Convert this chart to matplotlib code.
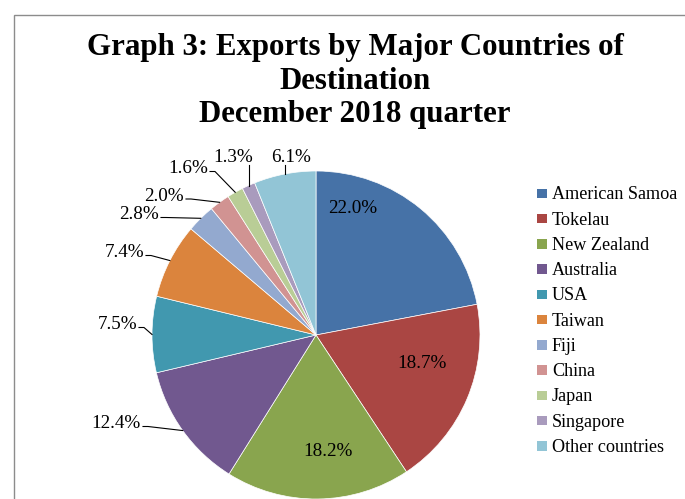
import numpy as np
import matplotlib
matplotlib.use("Agg")
import matplotlib.pyplot as plt
from matplotlib.patches import Rectangle

# ---- data ----
countries = ["American Samoa", "Tokelau", "New Zealand", "Australia", "USA",
             "Taiwan", "Fiji", "China", "Japan", "Singapore", "Other countries"]
shares = [22.0, 18.7, 18.2, 12.4, 7.5, 7.4, 2.8, 2.0, 1.6, 1.3, 6.1]
colors = ["#4672A7", "#AA4643", "#89A54E", "#71588F", "#4198AF", "#DB843D",
          "#93A9CF", "#D19392", "#B9CD96", "#A99BBD", "#92C5D6"]
title_lines = ["Graph 3: Exports by Major Countries of", "Destination",
               "December 2018 quarter"]

# ---- layout ----
W, H = 685, 499
SERIF = ["Liberation Serif", "DejaVu Serif"]
fig = plt.figure(figsize=(W / 100, H / 100), dpi=100)
ax = fig.add_axes([0, 0, 1, 1])

def Y(y):
    return H - y

CX, CY, R = 316, Y(335), 164
wedges, _ = ax.pie(shares, colors=colors, startangle=90, counterclock=False,
                   center=(CX, CY), radius=R,
                   wedgeprops=dict(edgecolor="white", linewidth=0.5))
ax.set_xlim(0, W)
ax.set_ylim(0, H)
ax.set_aspect("equal")
ax.axis("off")

# chart border (top and left visible)
ax.plot([14, 14, W], [0, Y(15), Y(15)], color="#8c8c8c", lw=1.0,
        solid_joinstyle="miter", clip_on=False)

# title
for line, yb in zip(title_lines, [55, 88.5, 122]):
    ax.text(355, Y(yb), line, ha="center", va="baseline", fontsize=22.2,
            fontweight="bold", family=SERIF)

# data label layout: kind, x, baseline (px from top)
label_layout = [("in", 353, 213), ("in", 422, 368), ("in", 328, 456),
                ("left", 141, 428), ("left", 137, 329), ("left", 144, 257),
                ("left", 159, 219), ("left", 184, 200.5), ("left", 208, 173),
                ("top", 233, 162), ("top", 291, 162)]

LFS = 13.8
for w, v, (kind, x, yb) in zip(wedges, shares, label_layout):
    txt = f"{v:.1f}%"
    mid = np.deg2rad((w.theta1 + w.theta2) / 2)
    ex, ey = CX + R * np.cos(mid), CY + R * np.sin(mid)
    if kind == "in":
        ax.text(x, Y(yb), txt, ha="center", va="baseline", fontsize=LFS,
                family=SERIF)
    elif kind == "left":
        ax.text(x, Y(yb), txt, ha="right", va="baseline", fontsize=LFS,
                family=SERIF)
        ly = Y(yb - 1.5)
        ax.plot([x + 2, x + 7, ex], [ly, ly, ey], color="black", lw=0.8)
    else:
        ax.text(x, Y(yb), txt, ha="center", va="baseline", fontsize=LFS,
                family=SERIF)
        ax.plot([ex, ex], [Y(yb + 3), ey], color="black", lw=0.8)

# legend
for i, (name, c) in enumerate(zip(countries, colors)):
    yc = 193.5 + 25.25 * i
    ax.add_patch(Rectangle((537.5, Y(yc + 4.5)), 9.5, 9.5, facecolor=c,
                           edgecolor="none"))
    ax.text(552, Y(yc + 5.8), name, ha="left", va="baseline", fontsize=13.1,
            family=SERIF)

fig.savefig("out.png", dpi=100)
